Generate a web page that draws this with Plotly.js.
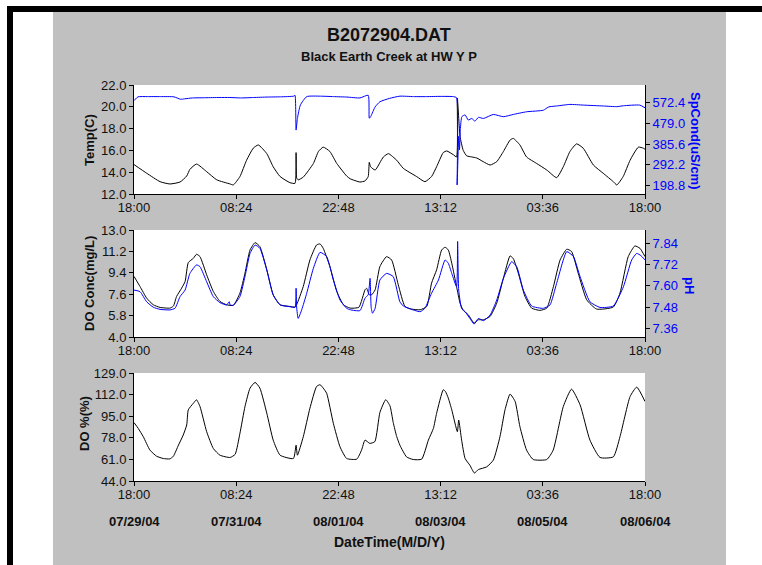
<!DOCTYPE html>
<html>
<head>
<meta charset="utf-8">
<script src="https://cdn.plot.ly/plotly-3.0.1.min.js"></script>
<style>
html,body{margin:0;padding:0;background:#fff;}
#chart{width:762px;height:565px;}
</style>
</head>
<body>
<div id="chart"></div>
<script>
// ---- data (hours since 07/29/04 18:00) ----
const tickHours = [0, 38.4, 76.8, 115.2, 153.6, 192];
const timeTickLabels = ['18:00', '08:24', '22:48', '13:12', '03:36', '18:00'];
const dateTickLabels = ['07/29/04', '07/31/04', '08/01/04', '08/03/04', '08/05/04', '08/06/04'];

const tempHours = [0,4.8,9.8,13.5,17.3,19.8,21.0,23.5,27.3,31.1,36.1,37.3,39.8,42.3,44.8,46.7,49.9,52.3,54.9,58.6,60.5,60.9,61.1,61.7,63.6,67.4,69.3,71.1,73.6,76.2,79.9,81.2,84.9,86.8,88.0,88.4,88.9,90.6,93.7,95.6,98.7,101.2,106.2,109.3,111.8,113.7,116.2,117.5,120.0,121.2,121.5,122.5,123.7,125.0,126.9,128.8,131.2,133.8,136.3,138.8,141.3,142.5,145.0,147.5,151.3,155.1,158.8,161.3,163.8,166.3,168.8,172.6,176.3,180.1,181.4,183.8,186.4,189.5,191.4,192];
const tempValues = [14.7,13.9,13.13,12.92,13.1,13.65,14.26,14.75,14.05,13.3,12.92,12.83,13.6,15.1,16.2,16.5,15.7,14.5,13.6,13.04,12.98,15.8,13.5,13.3,13.55,14.8,15.9,16.3,15.9,14.8,13.65,13.4,13.1,13.2,13.6,14.9,14.5,14.2,15.4,15.7,15.1,14.35,13.6,13.13,13.6,14.5,15.8,15.95,15.6,15.4,20.8,17.3,16.0,15.5,15.4,15.3,14.97,14.66,14.97,15.9,16.95,17.1,16.5,15.4,14.8,14.2,13.5,14.5,15.9,16.6,16.2,14.66,13.9,13.13,12.83,13.6,15.1,16.3,16.2,16.1];

const condHours = [0,1.5,5,10,15,17.5,19,22,27,32,36,40,45,50,55,60,60.5,60.9,61.4,62.5,64.9,70,75,80,84.9,88.0,88.4,89.0,90.6,92.4,96,99.9,105,110,115,120,121.2,121.4,122.0,122.3,122.6,123.2,124.4,125.6,126.9,128.1,129.4,131.3,135,138.8,142.5,147.5,153.8,155.5,156.3,158.8,163.8,168.8,176.3,181.4,183.9,190,192];
const condValues = [580,597,598,598,597,586,588,592,593,594,594,592,594,596,597,600,604,448,500,560,598,600,598,596,592,604,501,510,552,575,590,600,598,598,599,598,593,202,420,360,450,508,516,493,500,488,505,500,518,508,518,530,537,550,553,556,563,560,556,553,557,560,548];

const doHours = [0,2.25,4.76,7.26,9.77,13.5,14.8,16.0,17.9,19.2,20.4,22.3,23.5,24.8,27.3,29.8,32.3,34.8,37.3,39.8,41.7,43.6,45.5,47.3,49.9,52.3,54.9,58.6,60.5,61.1,63.6,66.1,68.6,69.9,71.1,73.6,76.2,78.7,81.2,84.5,86.8,87.4,88.4,89.3,90.6,92.4,94.9,96.8,99.3,101.8,104.3,107.5,110.0,111.8,113.7,115.6,116.9,118.1,119.4,121.2,122.5,123.7,125.6,127.8,129.4,131.3,133.8,136.3,138.8,141.3,142.5,144.4,146.9,149.4,152.5,155.1,157.6,160.1,162.6,164.4,166.9,170.1,173.8,180.1,182.6,185.7,188.2,190.1,192.0];
const doValues = [9.1,8.25,7.27,6.71,6.49,6.43,6.6,7.41,8.11,8.67,10.26,10.62,10.96,10.76,9.23,7.83,6.99,6.71,6.66,7.69,9.37,11.32,11.94,11.6,9.65,7.55,6.71,6.57,6.52,6.71,8.25,10.48,11.74,11.83,11.46,9.93,7.83,6.71,6.43,6.5,7.97,8.1,7.55,7.55,7.97,9.93,10.76,10.48,8.39,6.57,6.35,6.29,6.57,8.53,9.65,11.32,11.55,11.32,10.2,8.25,6.85,6.24,5.87,5.17,5.45,5.45,5.73,6.85,8.95,10.82,10.6,9.37,7.41,6.43,6.24,6.43,8.25,10.48,11.38,11.2,9.37,7.13,6.35,6.52,7.69,10.76,11.66,11.46,10.76];

const phHours = [0,2.25,4.76,7.26,9.77,13.5,15.4,17.3,19.2,21.0,23.5,24.8,27.3,29.8,32.3,34.8,35.8,36.1,37.3,39.8,41.7,43.6,45.5,47.3,49.9,52.3,54.9,58.6,60.5,60.9,61.1,61.7,63.0,64.9,67.4,69.9,72.4,74.9,77.4,79.9,81.2,84.9,86.8,88.0,88.7,89.1,89.6,90.6,92.4,94.9,97.4,99.9,101.2,103.1,107.5,109.3,111.8,114.4,116.9,118.1,119.4,121.2,121.6,122.0,123.1,124.4,126.2,127.8,129.4,131.3,133.8,136.3,138.8,141.9,143.8,146.3,149.4,153.8,156.3,158.8,162.6,165.1,167.6,171.3,175.1,180.1,183.9,187.0,188.9,190.5,192.0];
const phValues = [7.576,7.567,7.51,7.479,7.467,7.464,7.473,7.539,7.576,7.67,7.718,7.708,7.623,7.539,7.505,7.492,7.51,7.492,7.49,7.539,7.652,7.783,7.83,7.812,7.689,7.548,7.492,7.482,7.478,7.586,7.48,7.416,7.464,7.558,7.699,7.789,7.765,7.633,7.52,7.473,7.465,7.46,7.53,7.55,7.642,7.48,7.445,7.473,7.633,7.67,7.652,7.51,7.486,7.473,7.454,7.473,7.558,7.633,7.746,7.727,7.67,7.595,7.85,7.576,7.473,7.454,7.416,7.384,7.416,7.403,7.435,7.52,7.642,7.736,7.708,7.576,7.486,7.473,7.492,7.614,7.793,7.765,7.652,7.51,7.478,7.486,7.595,7.746,7.783,7.77,7.746];

const doPctHours = [0,1.6,3.5,6.0,8.5,11.0,13.5,14.8,16.7,18.5,19.8,20.4,22.3,23.5,24.8,27.3,29.8,32.3,36.1,38.0,39.8,41.7,43.6,45.5,47.3,49.9,52.3,54.9,59.9,60.9,61.4,63.6,66.1,68.6,69.9,71.1,72.4,74.9,77.4,79.9,83.7,85.5,86.8,88.6,90.5,92.4,94.6,96.2,97.4,98.7,99.9,102.4,104.9,108.1,110.6,112.5,113.7,116.2,117.0,118.1,119.4,121.5,122.0,123.1,124.4,126.2,127.9,129.4,132.5,135.0,137.5,139.4,141.3,143.2,145.0,147.5,150.0,155.1,157.5,161.3,164.4,167.6,171.3,175.1,180.1,182.6,186.4,188.9,192];
const doPctValues = [90,85.4,78.8,68.3,63.5,61.7,61.4,63.5,72.2,80.2,88.1,100,105.2,107.9,102.6,82.8,69.6,64.3,62.5,65,81.5,102.6,117.1,121.6,117.1,97.3,76.2,64.3,61.7,72.2,64.3,78.8,101.3,118.4,119.8,117.1,113,89.4,70.9,61.7,61.2,68.3,76.2,73.6,75,98,108,103,90,79,72.2,63,60.9,61.2,76.2,85.4,97.3,115.8,114.5,109.2,100,82.8,92,76.2,61.7,56.4,50.3,53,55.1,60.4,78.8,100,112.4,106.6,86.8,68.3,60.9,60.9,68.3,102.6,116.3,104,76.2,62.5,63,78.8,110.5,117.9,106.6];

// ---- geometry ----
const W = 762, H = 565;
const px = v => v / W;
const py = v => 1 - v / H;
const xDom = [px(134), px(645)];
const dom1 = [py(194), py(85)];
const dom2 = [py(337), py(230)];
const dom3 = [py(481), py(373)];

const FONT = 'Liberation Sans, Arial, sans-serif';
const BLUE = '#0000ff';

const lineBlack = {color: '#000', width: 1, shape: 'spline', smoothing: 0.5};
const lineBlue = {color: BLUE, width: 1, shape: 'spline', smoothing: 0.5};

const traces = [
  {x: tempHours, y: tempValues, xaxis: 'x', yaxis: 'y', mode: 'lines', line: lineBlack, name: 'Temp'},
  {x: condHours, y: condValues, xaxis: 'x', yaxis: 'y4', mode: 'lines', line: lineBlue, name: 'SpCond'},
  {x: doHours, y: doValues, xaxis: 'x2', yaxis: 'y2', mode: 'lines', line: lineBlack, name: 'DO'},
  {x: phHours, y: phValues, xaxis: 'x2', yaxis: 'y5', mode: 'lines', line: lineBlue, name: 'pH'},
  {x: doPctHours, y: doPctValues, xaxis: 'x3', yaxis: 'y3', mode: 'lines', line: lineBlack, name: 'DO%'}
];

const tickFont = {family: FONT, size: 13, color: '#111'};
const blueTickFont = {family: FONT, size: 13, color: BLUE};

function xAxis(anchor) {
  return {
    domain: xDom, anchor: anchor, range: [0, 192],
    tickmode: 'array', tickvals: tickHours, ticktext: timeTickLabels,
    ticks: 'outside', ticklen: 4, tickcolor: '#000', ticklabelstandoff: -3,
    showline: true, linecolor: '#000', linewidth: 1,
    showgrid: false, zeroline: false, tickfont: tickFont, fixedrange: true
  };
}
function yAxis(anchor, dom, range, vals, fmt, side, font) {
  return {
    domain: dom, anchor: anchor, range: range, side: side,
    tickmode: 'array', tickvals: vals, ticktext: vals.map(v => v.toFixed(fmt)),
    ticks: 'outside', ticklen: 4, tickcolor: '#000',
    showline: true, linecolor: '#000', linewidth: 1,
    showgrid: false, zeroline: false, tickfont: font, fixedrange: true
  };
}

const tempTicks = [12, 14, 16, 18, 20, 22];
const condTicks = [198.8, 292.2, 385.6, 479.0, 572.4];
const doTicks = [4.0, 5.8, 7.6, 9.4, 11.2, 13.0];
const phTicks = [7.36, 7.48, 7.60, 7.72, 7.84];
const doPctTicks = [44, 61, 78, 95, 112, 129];

const y4 = yAxis('x', dom1, [161.6, 650], condTicks, 1, 'right', blueTickFont);
y4.overlaying = 'y';
const y5 = yAxis('x2', dom2, [7.311, 7.915], phTicks, 2, 'right', blueTickFont);
y5.overlaying = 'y2';

const annotations = [];
function ann(text, x, y, size, opts) {
  annotations.push(Object.assign({
    text: text, xref: 'paper', yref: 'paper', x: px(x), y: py(y),
    xanchor: 'center', yanchor: 'middle', showarrow: false,
    font: {family: FONT, size: size, color: '#111'}
  }, opts || {}));
}
ann('<b>B2072904.DAT</b>', 389, 35, 18);
ann('<b>Black Earth Creek at HW Y P</b>', 389, 56, 13);
ann('<b>Temp(C)</b>', 90, 140, 13, {textangle: -90});
ann('<b>DO Conc(mg/L)</b>', 89, 284, 13, {textangle: -90});
ann('<b>DO %(%)</b>', 84, 424, 13, {textangle: -90});
ann('<b>SpCond(uS/cm)</b>', 696, 141, 13, {textangle: 90, font: {family: FONT, size: 13, color: BLUE}});
ann('<b>pH</b>', 690, 285, 13, {textangle: 90, font: {family: FONT, size: 13, color: BLUE}});
ann('<b>DateTime(M/D/Y)</b>', 389, 542, 14);
dateTickLabels.forEach((d, i) => {
  annotations.push({
    text: '<b>' + d + '</b>', xref: 'x3', yref: 'paper', x: tickHours[i], y: py(521),
    xanchor: 'center', yanchor: 'middle', showarrow: false,
    font: {family: FONT, size: 13, color: '#111'}
  });
});

const shapes = [
  // gray panel
  {type: 'rect', xref: 'paper', yref: 'paper', x0: px(53), x1: px(726), y0: py(565), y1: py(12), fillcolor: '#c0c0c0', line: {width: 0}, layer: 'below'},
  // white plot areas
  {type: 'rect', xref: 'paper', yref: 'paper', x0: xDom[0], x1: xDom[1], y0: dom1[0], y1: dom1[1], fillcolor: '#fff', line: {width: 0}, layer: 'below'},
  {type: 'rect', xref: 'paper', yref: 'paper', x0: xDom[0], x1: xDom[1], y0: dom2[0], y1: dom2[1], fillcolor: '#fff', line: {width: 0}, layer: 'below'},
  {type: 'rect', xref: 'paper', yref: 'paper', x0: xDom[0], x1: xDom[1], y0: dom3[0], y1: dom3[1], fillcolor: '#fff', line: {width: 0}, layer: 'below'},
  // black frame bars
  {type: 'rect', xref: 'paper', yref: 'paper', x0: px(7), x1: 1, y0: py(12), y1: py(6), fillcolor: '#000', line: {width: 0}, layer: 'below'},
  {type: 'rect', xref: 'paper', yref: 'paper', x0: px(7), x1: px(13), y0: 0, y1: py(6), fillcolor: '#000', line: {width: 0}, layer: 'below'}
];

const layout = {
  width: W, height: H,
  margin: {l: 0, r: 0, t: 0, b: 0, pad: 0},
  paper_bgcolor: '#fff', plot_bgcolor: 'rgba(0,0,0,0)',
  showlegend: false,
  font: {family: FONT, size: 13, color: '#111'},
  xaxis: xAxis('y'),
  xaxis2: xAxis('y2'),
  xaxis3: xAxis('y3'),
  yaxis: yAxis('x', dom1, [12, 22], tempTicks, 1, 'left', tickFont),
  yaxis2: yAxis('x2', dom2, [4, 13], doTicks, 1, 'left', tickFont),
  yaxis3: yAxis('x3', dom3, [44, 129], doPctTicks, 1, 'left', tickFont),
  yaxis4: y4,
  yaxis5: y5,
  shapes: shapes,
  annotations: annotations
};

Plotly.newPlot('chart', traces, layout, {staticPlot: true, displayModeBar: false});
</script>
</body>
</html>
